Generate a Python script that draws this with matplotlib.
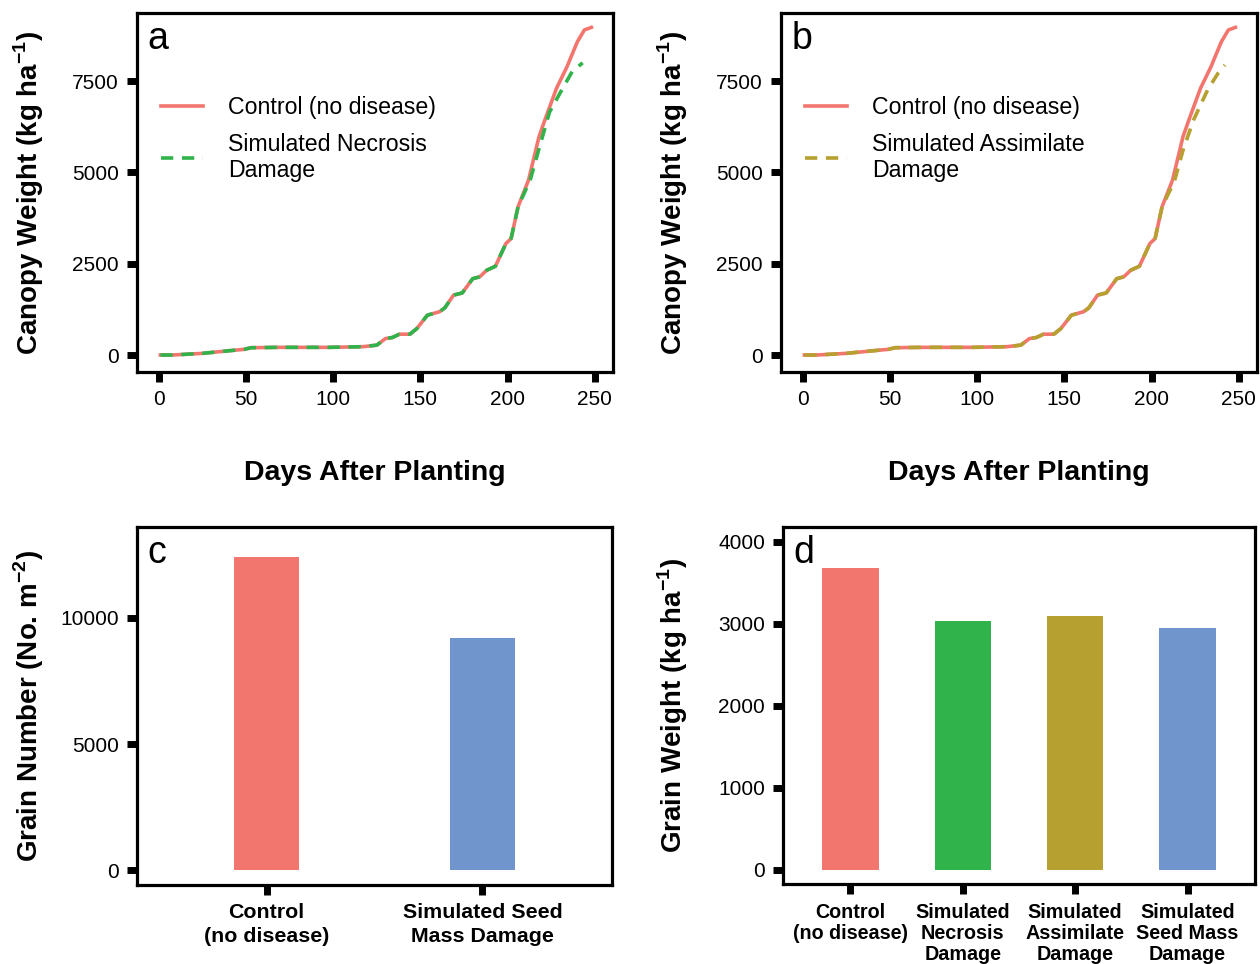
import matplotlib
matplotlib.use("Agg")
import matplotlib.pyplot as plt
import numpy as np

plt.rcParams['font.family'] = ['Liberation Sans', 'DejaVu Sans']
plt.rcParams['mathtext.fontset'] = 'custom'
plt.rcParams['mathtext.rm'] = 'Liberation Sans'

# canopy weight over time
days = [1, 8, 25, 41, 49, 53, 69, 98, 117, 125, 130, 134, 138, 144, 148, 154, 161, 164,
        169, 174, 180, 184, 188, 193, 199, 202, 206, 212, 218, 222, 228, 234, 240, 244, 248]
control = [0, 0, 45, 120, 155, 200, 210, 210, 228, 270, 450, 480, 570, 570, 725, 1090, 1185, 1290,
           1640, 1700, 2090, 2140, 2320, 2430, 3050, 3190, 4060, 4790, 5980, 6520, 7300, 7890, 8580, 8900, 8970]

late_days_nec = [213, 218, 224, 232, 237, 243]
late_nec = [4800, 5650, 6650, 7340, 7760, 8000]
late_days_ass = [213, 218, 224, 232, 238, 242]
late_ass = [4750, 5610, 6430, 7250, 7710, 7940]

n_early = 27  # points shared with control (up to day 206)
nec_days = days[:n_early] + late_days_nec
nec_vals = control[:n_early] + late_nec
ass_days = days[:n_early] + late_days_ass
ass_vals = control[:n_early] + late_ass

# grain number / grain weight
c_labels = ['Control\n(no disease)', 'Simulated Seed\nMass Damage']
grain_number = [12420, 9200]
d_labels = ['Control\n(no disease)', 'Simulated\nNecrosis\nDamage', 'Simulated\nAssimilate\nDamage',
            'Simulated\nSeed Mass\nDamage']
grain_weight = [3683, 3037, 3098, 2951]

red = '#F3766E'
green = '#2FB34A'
olive = '#B6A030'
blue = '#7094CC'

W, H = 1260, 964
fig = plt.figure(figsize=(W / 100, H / 100), dpi=100)


def add_axes(l, r, t, b):
    return fig.add_axes([l / W, 1 - b / H, (r - l) / W, (b - t) / H])


def style(ax):
    for s in ax.spines.values():
        s.set_linewidth(2.3)
    ax.tick_params(direction='out', length=7, width=5, labelsize=15, pad=6)


ax_a = add_axes(137, 613, 13, 372)
ax_b = add_axes(781, 1257, 13, 372)
ax_c = add_axes(137, 612, 527, 885)
ax_d = add_axes(783, 1255, 527, 884)

for ax, d2, v2, col, lab, letter in [
        (ax_a, nec_days, nec_vals, green, 'Simulated Necrosis\nDamage', 'a'),
        (ax_b, ass_days, ass_vals, olive, 'Simulated Assimilate\nDamage', 'b')]:
    ax.plot(days, control, color=red, lw=2.6, label='Control (no disease)')
    ax.plot(d2, v2, color=col, lw=2.6, ls=(0, (3.4, 2.4)), label=lab)
    ax.set_xlim(-12.4, 260.4)
    ax.set_ylim(-465, 9364)
    ax.set_xticks([0, 50, 100, 150, 200, 250])
    ax.set_yticks([0, 2500, 5000, 7500])
    style(ax)
    ax.set_xlabel('Days After Planting', fontsize=20.5, fontweight='bold')
    ax.xaxis.set_label_coords(0.5, -0.246)
    ax.set_ylabel(r'Canopy Weight (kg ha$^{\mathregular{-1}}$)', fontsize=20, fontweight='bold')
    ax.yaxis.set_label_coords(-0.192, 0.5)
    ax.text(0.022, 0.977, letter, transform=ax.transAxes, fontsize=27, va='top', ha='left')
    ax.legend(loc='upper left', bbox_to_anchor=(0.03, 0.795), borderaxespad=0, frameon=False,
              fontsize=16.7, handlelength=1.85, handletextpad=1.05, labelspacing=0.6)

ax_c.bar([1, 2], grain_number, width=0.3, color=[red, blue])
ax_c.set_xlim(0.4, 2.6)
ax_c.set_ylim(-595, 13611)
ax_c.set_xticks([1, 2])
ax_c.set_yticks([0, 5000, 10000])
style(ax_c)
ax_c.set_xticklabels(c_labels, fontweight='bold', linespacing=1.3, fontsize=15.4)
ax_c.set_ylabel(r'Grain Number (No. m$^{\mathregular{-2}}$)', fontsize=20, fontweight='bold')
ax_c.yaxis.set_label_coords(-0.192, 0.5)
ax_c.text(0.022, 0.977, 'c', transform=ax_c.transAxes, fontsize=27, va='top', ha='left')

ax_d.bar([1, 2, 3, 4], grain_weight, width=0.5, color=[red, green, olive, blue])
ax_d.set_xlim(0.4, 4.6)
ax_d.set_ylim(-175, 4183)
ax_d.set_xticks([1, 2, 3, 4])
ax_d.set_yticks([0, 1000, 2000, 3000, 4000])
style(ax_d)
ax_d.set_xticklabels(d_labels, fontweight='bold', linespacing=1.12, fontsize=14.2)
ax_d.tick_params(axis='x', pad=7)
ax_d.set_ylabel(r'Grain Weight (kg ha$^{\mathregular{-1}}$)', fontsize=20, fontweight='bold')
ax_d.yaxis.set_label_coords(-0.197, 0.5)
ax_d.text(0.022, 0.977, 'd', transform=ax_d.transAxes, fontsize=27, va='top', ha='left')

fig.savefig('out.png', dpi=100)
